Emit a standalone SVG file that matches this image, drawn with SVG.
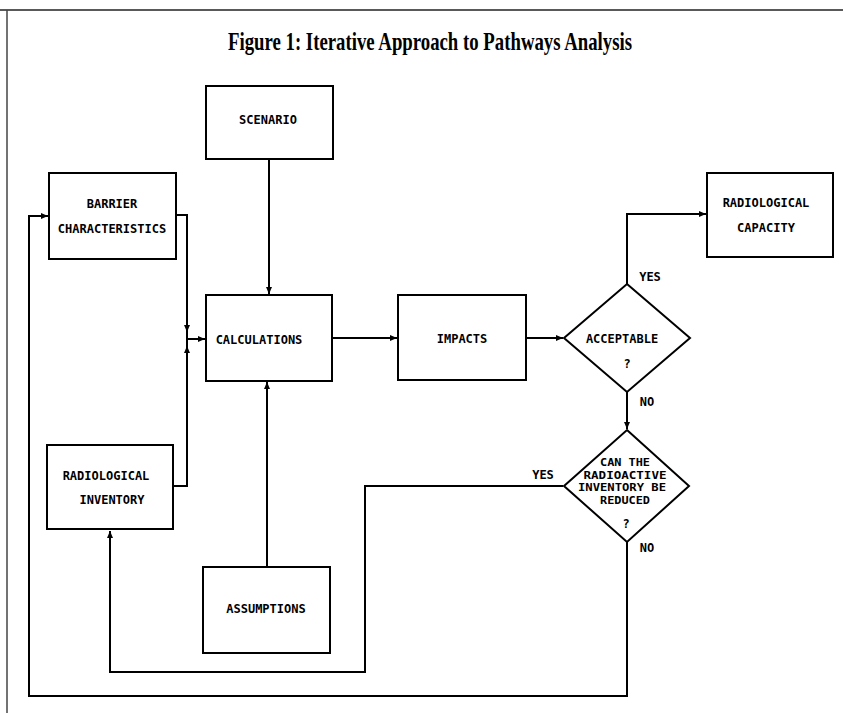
<svg xmlns="http://www.w3.org/2000/svg" width="843" height="713" viewBox="0 0 843 713">
<defs>
<marker id="ah" markerWidth="8" markerHeight="8" refX="7" refY="4" orient="auto" markerUnits="userSpaceOnUse">
<path d="M0,1 L7,4 L0,7 Z" fill="#000"/>
</marker>
<style>
.box{fill:#fff;stroke:#000;stroke-width:2}
.lbl{font-family:"DejaVu Sans Mono",monospace;font-weight:bold;font-size:12px;fill:#000;text-anchor:middle}
.sm{font-size:10.5px}
.con{fill:none;stroke:#000;stroke-width:2}
.arr{fill:none;stroke:#000;stroke-width:2;marker-end:url(#ah)}
</style>
</defs>
<rect width="843" height="713" fill="#fff"/>
<g id="frame">
<line x1="0" y1="10" x2="843" y2="10" stroke="#222" stroke-width="1.5"/>
<line x1="7" y1="10" x2="7" y2="713" stroke="#444" stroke-width="1.5"/>
</g>
<text id="title" x="430" y="50" font-family="Liberation Serif, serif" font-weight="bold" font-size="26" text-anchor="middle" textLength="404" lengthAdjust="spacingAndGlyphs">Figure 1: Iterative Approach to Pathways Analysis</text>
<g id="connectors">
<path class="arr" d="M269,159 V294"/>
<path class="arr" d="M267,567 V382"/>
<path class="arr" d="M176,215 H187 V332"/>
<path class="arr" d="M173,486 H187 V346"/>
<line class="con" x1="187" y1="331" x2="187" y2="347"/>
<path class="arr" d="M187,339 H205"/>
<path class="arr" d="M332,338 H397"/>
<path class="arr" d="M526,338 H563"/>
<path class="arr" d="M627,284 V214 H706"/>
<path class="arr" d="M627,392 V429"/>
<path class="arr" d="M563,486 H365 V672 H110 V531"/>
<path class="arr" d="M627,542 V696 H29 V216 H48"/>
</g>
<g id="scenario"><rect class="box" x="206" y="86" width="127" height="73"/><text class="lbl" x="268" y="124">SCENARIO</text></g>
<g id="barrier"><rect class="box" x="49" y="173" width="127" height="86"/><text class="lbl" x="112" y="208">BARRIER</text><text class="lbl" x="112" y="233">CHARACTERISTICS</text></g>
<g id="calculations"><rect class="box" x="206" y="295" width="126" height="86"/><text class="lbl" x="259" y="344">CALCULATIONS</text></g>
<g id="impacts"><rect class="box" x="398" y="295" width="128" height="85"/><text class="lbl" x="462" y="343">IMPACTS</text></g>
<g id="acceptable"><polygon class="box" points="627,284 690,338 627,392 564,338"/><text class="lbl" x="622" y="343">ACCEPTABLE</text><text class="lbl" x="627" y="368">?</text></g>
<g id="capacity"><rect class="box" x="707" y="173" width="126" height="84"/><text class="lbl" x="766" y="207">RADIOLOGICAL</text><text class="lbl" x="766" y="232">CAPACITY</text></g>
<g id="reduce"><polygon class="box" points="627,430 689,486 627,542 564,486"/>
<text class="lbl sm" x="625" y="466" textLength="50" lengthAdjust="spacingAndGlyphs">CAN THE</text>
<text class="lbl sm" x="625" y="478.5" textLength="83" lengthAdjust="spacingAndGlyphs">RADIOACTIVE</text>
<text class="lbl sm" x="622" y="491" textLength="88" lengthAdjust="spacingAndGlyphs">INVENTORY BE</text>
<text class="lbl sm" x="625" y="503.5" textLength="50" lengthAdjust="spacingAndGlyphs">REDUCED</text>
<text class="lbl" x="626" y="528">?</text></g>
<g id="inventory"><rect class="box" x="47" y="445" width="126" height="84"/><text class="lbl" x="106" y="480">RADIOLOGICAL</text><text class="lbl" x="112" y="504">INVENTORY</text></g>
<g id="assumptions"><rect class="box" x="203" y="567" width="127" height="86"/><text class="lbl" x="266" y="613">ASSUMPTIONS</text></g>
<g id="labels">
<text class="lbl" x="650" y="281">YES</text>
<text class="lbl" x="647" y="406">NO</text>
<text class="lbl" x="543" y="479">YES</text>
<text class="lbl" x="647" y="552">NO</text>
</g>
</svg>
